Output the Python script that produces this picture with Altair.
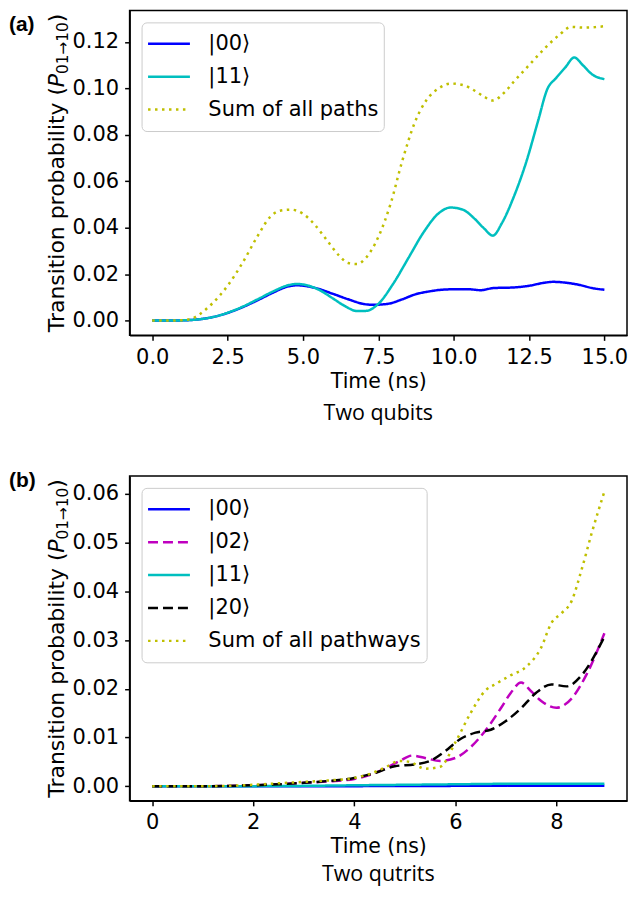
import altair as alt
import pandas as pd

# ---------------- Panel (a): two qubits ----------------
a_names = ["|00⟩", "|11⟩", "Sum of all paths"]
a_colors = ["#0000ff", "#00bfbf", "#bfbf00"]
a_dashes = [[1, 0], [1, 0], [2.5, 4.5]]

a_t_00 = [0, 0.5, 1.0, 1.5, 2.0, 2.5, 3.0, 3.5, 4.0, 4.5, 4.8, 5.4, 6.0, 6.5, 7.0, 7.3,
          7.8, 8.3, 8.7, 9.2, 9.6, 10.0, 10.5, 10.9, 11.3, 12.0, 12.5, 13.0, 13.3, 13.8,
          14.2, 14.6, 15.0]
a_v_00 = [0, 0, 0.0001, 0.0005, 0.0015, 0.0033, 0.0058, 0.0088, 0.0120, 0.0147, 0.0152,
          0.0141, 0.0115, 0.0092, 0.0072, 0.0068, 0.0072, 0.0092, 0.0112, 0.0126, 0.0133,
          0.0135, 0.0135, 0.0131, 0.0140, 0.0143, 0.0150, 0.0163, 0.0167, 0.0162, 0.0153,
          0.0140, 0.0133]

a_t_11 = [0, 0.5, 1.0, 1.5, 2.0, 2.5, 3.0, 3.5, 4.0, 4.5, 4.8, 5.2, 5.6, 6.0, 6.4, 6.8,
          7.1, 7.5, 8.0, 8.5, 9.0, 9.5, 9.9, 10.3, 10.7, 11.0, 11.3, 11.6, 12.0, 12.4,
          12.8, 13.1, 13.4, 13.7, 14.0, 14.3, 14.6, 15.0]
a_v_11 = [0, 0, 0.0001, 0.0005, 0.0015, 0.0034, 0.0060, 0.0092, 0.0125, 0.0152, 0.0158,
          0.0150, 0.0128, 0.0095, 0.0062, 0.0041, 0.0042, 0.0072, 0.0160, 0.0270, 0.0380,
          0.0462, 0.0487, 0.0478, 0.0438, 0.0398, 0.0366, 0.0420, 0.0535, 0.0680, 0.0860,
          0.0995, 0.1045, 0.1090, 0.1133, 0.1098, 0.1060, 0.1040]

a_t_sum = [0, 0.5, 1.0, 1.3, 1.6, 2.0, 2.5, 3.0, 3.5, 3.9, 4.2, 4.6, 5.0, 5.4, 5.8, 6.2,
           6.5, 6.8, 7.1, 7.5, 7.9, 8.3, 8.7, 9.1, 9.5, 9.9, 10.3, 10.7, 11.0, 11.3, 11.7,
           12.0, 12.5, 13.0, 13.5, 13.9, 14.3, 14.7, 15.0]
a_v_sum = [0, 0, 0.0002, 0.0008, 0.0030, 0.0075, 0.0150, 0.0250, 0.0365, 0.0445, 0.0472,
           0.0478, 0.0460, 0.0412, 0.0345, 0.0280, 0.0248, 0.0244, 0.0272, 0.0360, 0.0500,
           0.0690, 0.0850, 0.0950, 0.1000, 0.1021, 0.1015, 0.0990, 0.0965, 0.0948, 0.0985,
           0.1030, 0.1100, 0.1170, 0.1230, 0.1265, 0.1262, 0.1264, 0.1268]

a_xticks = [0, 2.5, 5, 7.5, 10, 12.5, 15]
a_yticks = [0, 0.02, 0.04, 0.06, 0.08, 0.10, 0.12]

# ---------------- Panel (b): two qutrits ----------------
b_names = ["|00⟩", "|02⟩", "|11⟩", "|20⟩", "Sum of all pathways"]
b_colors = ["#0000ff", "#bf00bf", "#00bfbf", "#000000", "#bfbf00"]
b_dashes = [[1, 0], [10, 5], [1, 0], [10, 5], [2.5, 4.5]]

b_t_00 = [0, 1, 2, 3, 4, 5, 6, 6.7, 7.5, 8.2, 8.95]
b_v_00 = [0, 0, 0, 0, 0.00002, 0.00005, 0.00008, 0.00012, 0.0001, 0.00008, 0.0001]

b_t_02 = [0, 1, 2, 2.5, 3.0, 3.5, 4.0, 4.3, 4.6, 4.9, 5.15, 5.4, 5.7, 6.0, 6.3, 6.6,
          6.9, 7.1, 7.3, 7.5, 7.7, 8.0, 8.3, 8.6, 8.95]
b_v_02 = [0, 0, 0.0002, 0.0004, 0.0007, 0.0010, 0.0015, 0.0023, 0.0036, 0.0052, 0.0063,
          0.0058, 0.0052, 0.0058, 0.0080, 0.0115, 0.0160, 0.0192, 0.0213, 0.0195, 0.0175,
          0.0161, 0.0180, 0.0230, 0.0314]

b_t_11 = [0, 1, 2, 3, 4, 5, 6, 7, 8, 8.95]
b_v_11 = [0, 0, 0.00002, 0.00008, 0.0002, 0.0003, 0.0004, 0.0005, 0.0005, 0.0005]

b_t_20 = [0, 1, 2, 2.5, 3.0, 3.5, 4.0, 4.4, 4.8, 5.2, 5.5, 5.8, 6.1, 6.4, 6.7, 7.0,
          7.3, 7.6, 7.9, 8.2, 8.5, 8.95]
b_v_20 = [0, 0, 0.0002, 0.0004, 0.0007, 0.0011, 0.0017, 0.0027, 0.0041, 0.0045, 0.0052,
          0.0072, 0.0097, 0.0110, 0.0116, 0.0134, 0.0160, 0.0192, 0.0209, 0.0205, 0.0228,
          0.0307]

b_t_sum = [0, 1, 2, 2.5, 3.0, 3.5, 4.0, 4.3, 4.6, 4.9, 5.1, 5.4, 5.7, 6.0, 6.3, 6.6,
           6.8, 7.1, 7.4, 7.7, 7.9, 8.1, 8.3, 8.5, 8.7, 8.95]
b_v_sum = [0, 0, 0.0003, 0.0006, 0.0009, 0.0012, 0.0017, 0.0025, 0.0038, 0.0052, 0.0050,
           0.0036, 0.0040, 0.0090, 0.0150, 0.0197, 0.0210, 0.0228, 0.0245, 0.0285, 0.0335,
           0.0355, 0.0380, 0.0445, 0.0520, 0.0605]

b_xticks = [0, 2, 4, 6, 8]
b_yticks = [0, 0.01, 0.02, 0.03, 0.04, 0.05, 0.06]

W, H = 499, 326
FS = 21
TFS = 22


def long_df(series):
    rows = []
    for k, (name, ts, vs) in enumerate(series):
        for t, v in zip(ts, vs):
            rows.append({"t": t, "v": v, "series": name, "k": k})
    return pd.DataFrame(rows)


def one():
    return alt.Data(values=[{"a": 0}])


def ytitle_layers():
    fs2 = TFS * 0.7
    xb = -66
    w1 = 11.169 * TFS
    wp = 0.603 * TFS
    wsub = (4 * 0.636 + 0.838) * fs2
    wpar = 0.390 * TFS
    total = w1 + wp + wsub + wpar
    start = H / 2 + total / 2
    parts = [
        ("Transition probability (", TFS, "normal", 0, 0),
        ("P", TFS, "italic", w1, 0),
        ("01→10", fs2, "normal", w1 + wp, 4),
        (")", TFS, "normal", w1 + wp + wsub, 0),
    ]
    layers = []
    for txt, fs, style, off, shift in parts:
        layers.append(
            alt.Chart(one()).mark_text(
                text=txt, font="DejaVu Sans", fontSize=fs, fontStyle=style,
                angle=270, align="left", baseline="alphabetic", color="black",
            ).encode(x=alt.value(xb + shift), y=alt.value(start - off))
        )
    return layers


def panel(df, names, colors, dashes, xdom, xticks, xfmt, ydom, yticks, tag, tag_y,
          caption, cap_y):
    leg = alt.Legend(
        title=None, orient="none", legendX=12, legendY=12,
        symbolType="stroke", symbolSize=1764, symbolStrokeWidth=2.5,
        clipHeight=33, rowPadding=0, padding=5, labelOffset=17, labelLimit=0,
        labelFont="DejaVu Sans", labelFontSize=FS, labelColor="black",
        strokeColor="#cccccc", fillColor="white", cornerRadius=5,
    )
    lines = alt.Chart(df).mark_line(strokeWidth=2.5, interpolate="monotone").encode(
        x=alt.X("t:Q", scale=alt.Scale(domain=xdom, nice=False, zero=False),
                axis=alt.Axis(values=xticks, format=xfmt, title="Time (ns)")),
        y=alt.Y("v:Q", scale=alt.Scale(domain=ydom, nice=False, zero=False),
                axis=alt.Axis(values=yticks, format=".2f", title=None)),
        color=alt.Color("series:N", scale=alt.Scale(domain=names, range=colors), legend=leg),
        strokeDash=alt.StrokeDash("series:N", scale=alt.Scale(domain=names, range=dashes), legend=leg),
        order=alt.Order("k:Q"),
    )
    tag_t = alt.Chart(one()).mark_text(
        text=tag, font="Liberation Sans", fontWeight="bold", fontSize=21,
        align="left", baseline="top", color="black",
    ).encode(x=alt.value(-121), y=alt.value(tag_y))
    cap_t = alt.Chart(one()).mark_text(
        text=caption, font="Open Sans", fontSize=21.5,
        align="center", baseline="alphabetic", color="black",
    ).encode(x=alt.value(W / 2), y=alt.value(cap_y))
    return alt.layer(lines, tag_t, cap_t, *ytitle_layers()).properties(width=W, height=H)


df_a = long_df([(a_names[0], a_t_00, a_v_00), (a_names[1], a_t_11, a_v_11),
                (a_names[2], a_t_sum, a_v_sum)])
df_b = long_df([(b_names[0], b_t_00, b_v_00), (b_names[1], b_t_02, b_v_02),
                (b_names[2], b_t_11, b_v_11), (b_names[3], b_t_20, b_v_20),
                (b_names[4], b_t_sum, b_v_sum)])

pa = panel(df_a, a_names, a_colors, a_dashes, [-0.75, 15.75], a_xticks, ".1f",
           [-0.00635, 0.1336], a_yticks, "(a)", 4, "Two qubits", 411)
pb = panel(df_b, b_names, b_colors, b_dashes, [-0.4475, 9.3975], b_xticks, "d",
           [-0.003, 0.0637], b_yticks, "(b)", -6, "Two qutrits", 406)

chart = alt.vconcat(
    pa, pb, spacing=43, background="white", padding=0,
).resolve_scale(
    color="independent", strokeDash="independent"
).resolve_legend(color="independent", strokeDash="independent").configure_axis(
    labelFont="DejaVu Sans", labelFontSize=FS, labelColor="black",
    titleFont="DejaVu Sans", titleFontSize=20.5, titleFontWeight="normal", titleColor="black",
    tickColor="black", domainColor="black", tickSize=5, tickWidth=1.5, domainWidth=1.5,
    grid=False, labelPadding=6, titlePadding=4,
).configure_view(stroke="black", strokeWidth=1.5)

chart.save("out.html", embed_options={"renderer": "svg", "actions": False})
